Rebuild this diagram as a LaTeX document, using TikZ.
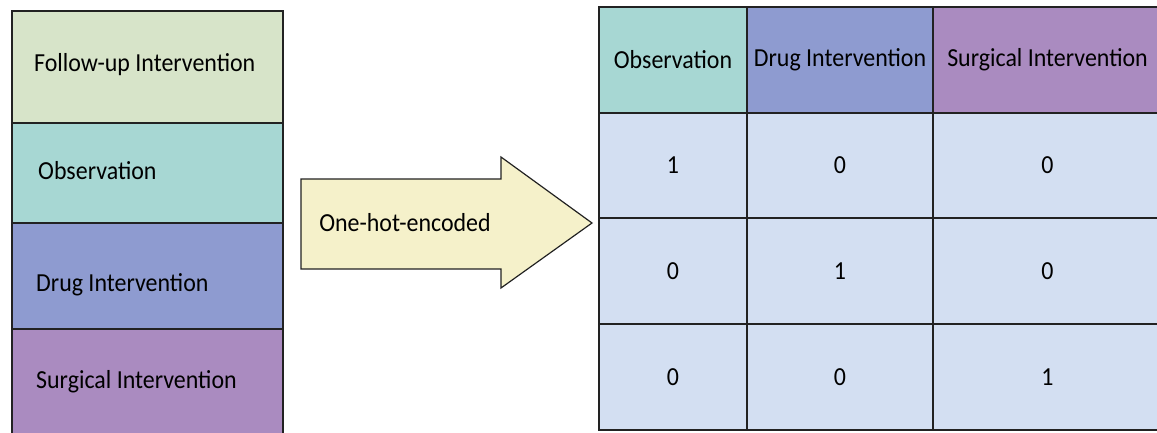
\documentclass[tikz,border=0pt]{standalone}
\usepackage{fontspec}
\setmainfont{Carlito}[FakeStretch=0.92]
\definecolor{fugreen}{HTML}{D7E4C9}
\definecolor{obsteal}{HTML}{A7D7D3}
\definecolor{drugblue}{HTML}{8E9BD0}
\definecolor{surgpurple}{HTML}{AA8BC0}
\definecolor{tablebg}{HTML}{D3DFF2}
\definecolor{arrowfill}{HTML}{F5F1CA}
\definecolor{edge}{HTML}{222222}
\begin{document}
\begin{tikzpicture}[x=1pt,y=-1pt,
  font=\fontsize{26}{30}\selectfont,
  lcell/.style={draw=edge, line width=1.2pt, inner sep=0pt, minimum width=271pt},
  ltext/.style={anchor=west, inner sep=0pt},
  tcell/.style={draw=edge, line width=1.5pt, inner sep=0pt},
  encshape/.style={draw=edge, line width=1.2pt, fill=arrowfill, line join=miter}]
\clip (0,0) rectangle (1157,432);
% left column
\node[lcell, fill=fugreen,    minimum height=112pt] (fu)   at (147.5,67)  {};
\node[lcell, fill=obsteal,    minimum height=100pt] (obs)  at (147.5,173) {};
\node[lcell, fill=drugblue,   minimum height=106pt] (drug) at (147.5,276) {};
\node[lcell, fill=surgpurple, minimum height=110pt] (surg) at (147.5,384) {};
\node[ltext] (tfu)   at (34,65)  {Follow-up Intervention};
\node[ltext] (tobs)  at (38,171) {Observation};
\node[ltext] (tdrug) at (36,285) {Drug Intervention};
\node[ltext] (tsurg) at (36,382) {Surgical Intervention};
% arrow
\draw[encshape] (301,179) -- (501,179) -- (501,157) -- (592,223) -- (501,288) -- (501,269) -- (301,269) -- cycle;
\node[inner sep=0pt] (enc) at (405,223) {One-hot-encoded};
% table header
\node[tcell, fill=obsteal,    minimum width=148pt, minimum height=106pt] (h1) at (673,60)    {Observation};
\node[tcell, fill=drugblue,   minimum width=186pt, minimum height=106pt] (h2) at (840,60)    {Drug Intervention};
\node[tcell, fill=surgpurple, minimum width=229pt, minimum height=106pt] (h3) at (1047.5,60) {Surgical Intervention};
% table body
\node[tcell, fill=tablebg, minimum width=148pt, minimum height=105pt] (c11) at (673,165.5)    {1};
\node[tcell, fill=tablebg, minimum width=186pt, minimum height=105pt] (c12) at (840,165.5)    {0};
\node[tcell, fill=tablebg, minimum width=229pt, minimum height=105pt] (c13) at (1047.5,165.5) {0};
\node[tcell, fill=tablebg, minimum width=148pt, minimum height=106pt] (c21) at (673,271)    {0};
\node[tcell, fill=tablebg, minimum width=186pt, minimum height=106pt] (c22) at (840,271)    {1};
\node[tcell, fill=tablebg, minimum width=229pt, minimum height=106pt] (c23) at (1047.5,271) {0};
\node[tcell, fill=tablebg, minimum width=148pt, minimum height=106pt] (c31) at (673,377)    {0};
\node[tcell, fill=tablebg, minimum width=186pt, minimum height=106pt] (c32) at (840,377)    {0};
\node[tcell, fill=tablebg, minimum width=229pt, minimum height=106pt] (c33) at (1047.5,377) {1};
\end{tikzpicture}
\end{document}
